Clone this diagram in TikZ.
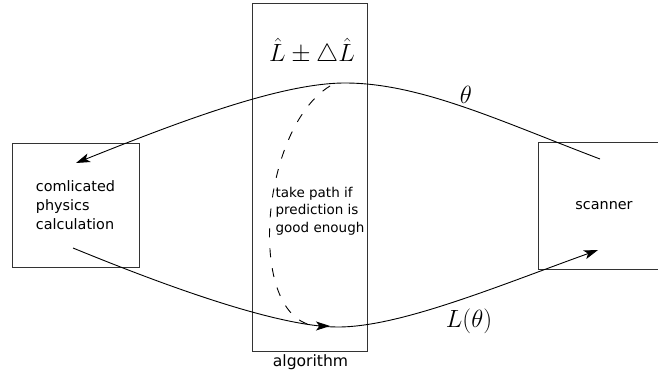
\documentclass[tikz,border=0pt]{standalone}
\usepackage[no-math]{fontspec}
\setmainfont{DejaVu Sans}
\usetikzlibrary{arrows.meta}
\begin{document}
\begin{tikzpicture}[x=1pt,y=-1pt,
  box/.style={draw=black!80, line width=0.9pt, inner sep=0pt, outer sep=0pt},
  lbl/.style={font=\fontsize{14.4}{19}\selectfont, align=left, inner sep=0pt},
  notelbl/.style={font=\fontsize{13.5}{17.5}\selectfont, align=left, inner sep=0pt},
  caplbl/.style={font=\fontsize{15.6}{19}\selectfont, inner sep=0pt},
  mathlbl/.style={font=\fontsize{29}{33}\selectfont, inner sep=0pt},
  flow/.style={line width=0.9pt, -{Stealth[length=14pt,width=9pt,inset=3.5pt]}},
  alt/.style={flow, dash pattern=on 9pt off 11pt}]
\clip (0,0) rectangle (658,372);
\fill[white] (0,0) rectangle (658,372);
% boxes
\node[box, lbl, minimum width=127pt, minimum height=124pt] (calc) at (75.5,205) {comlicated\\physics\\calculation};
\node[box, minimum width=115pt, minimum height=348pt] (algo) at (309.5,177) {};
\node[box, lbl, minimum width=132pt, minimum height=127pt] (scan) at (604,205.5) {scanner};
% labels
\node[mathlbl] (est) at (312,52) {$\hat{L}\pm\triangle\hat{L}$};
\node[notelbl] (note) at (320,211) {take path if\\prediction is\\good enough};
\node[caplbl] (algolbl) at (310.5,362) {algorithm};
\node[mathlbl] (theta) at (466,95) {$\theta$};
\node[mathlbl] (ltheta) at (469,321) {$L(\theta)$};
% curve end points
\coordinate (s1) at (600,159);
\coordinate (top) at (345,83);
\coordinate (c1) at (76,163);
\coordinate (b1) at (73,248);
\coordinate (bot) at (338,327);
\coordinate (b2) at (598,250);
\coordinate (d1) at (330,86);
\coordinate (d2) at (330,326);
% connectors
\draw[flow] (s1) .. controls (500,121) and (420,83) .. (top)
  .. controls (280,83) and (176,123) .. (c1);
\draw[flow] (b1) .. controls (173,289) and (280,327) .. (bot)
  .. controls (400,327) and (498,286) .. (b2);
\draw[alt] (d1) .. controls (258,130) and (245,326) .. (d2);
\end{tikzpicture}
\end{document}
